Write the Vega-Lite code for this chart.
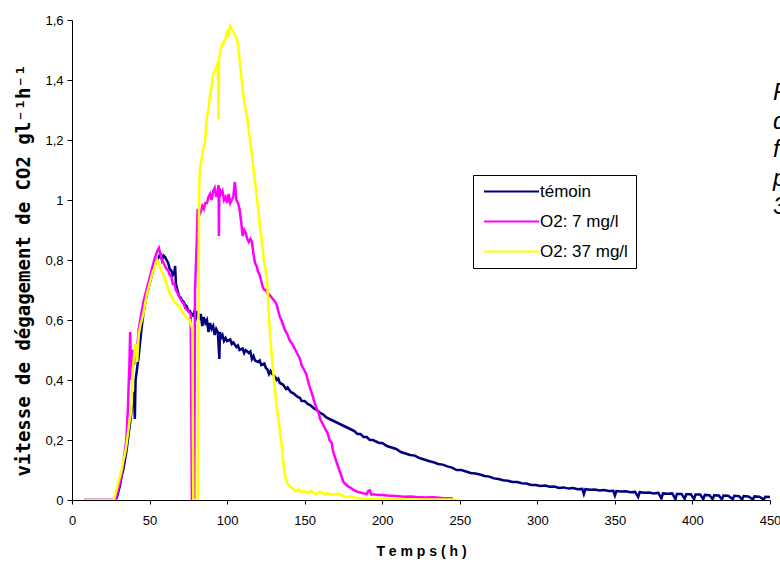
{
  "$schema": "https://vega.github.io/schema/vega-lite/v6.json",
  "width": 698,
  "height": 480,
  "autosize": {"type": "none"},
  "padding": {"left": 72, "top": 20, "right": 10, "bottom": 66},
  "background": "white",
  "config": {
    "view": {"stroke": null},
    "font": "Liberation Sans",
    "axis": {"grid": false, "domainColor": "black", "tickColor": "black", "labelColor": "black", "titleColor": "black", "labelFont": "Liberation Sans", "labelFontSize": 13}
  },
  "title": {
    "text": ["F", "d", "f", "p", "3"],
    "anchor": "end",
    "frame": "group",
    "align": "left",
    "baseline": "alphabetic",
    "offset": 0,
    "dx": 3,
    "dy": 224,
    "fontSize": 24,
    "lineHeight": 28.5,
    "fontStyle": "italic",
    "fontWeight": "normal",
    "font": "Liberation Sans",
    "color": "black"
  },
  "encoding": {
    "x": {
      "field": "t", "type": "quantitative",
      "scale": {"domain": [0, 450], "nice": false, "zero": false},
      "axis": {
        "values": [0, 50, 100, 150, 200, 250, 300, 350, 400, 450],
        "labelFlush": false, "labelOverlap": false,
        "tickSize": 4, "labelPadding": 10,
        "title": "T e m p s   ( h )",
        "titleFont": "Liberation Sans", "titleFontSize": 14, "titleFontWeight": "bold", "titlePadding": 17
      }
    },
    "y": {
      "field": "v", "type": "quantitative",
      "scale": {"domain": [0, 1.6], "nice": false},
      "axis": {
        "values": [0, 0.2, 0.4, 0.6, 0.8, 1, 1.2, 1.4, 1.6],
        "labelExpr": "replace(toString(datum.value), '.', ',')",
        "labelFlush": false,
        "tickSize": 5, "labelPadding": 4,
        "title": "vitesse de dégagement de CO2 gl⁻¹h⁻¹",
        "titleFont": "DejaVu Sans Mono", "titleFontSize": 19, "titleFontWeight": "bold",
        "titleX": -49, "titleY": 250, "titleBaseline": "middle", "titleAngle": -90
      }
    }
  },
  "layer": [
    {
      "data": {"values": [
        {"t":8,"v":0},{"t":28,"v":0},{"t":29,"v":0.01},{"t":30,"v":0.03},{"t":31,"v":0.05},{"t":32,"v":0.08},{"t":33,"v":0.1},{"t":34,"v":0.13},{"t":35,"v":0.16},{"t":36,"v":0.2},{"t":37,"v":0.24},{"t":38,"v":0.28},{"t":39,"v":0.33},{"t":40,"v":0.36},{"t":40.5,"v":0.27},{"t":41,"v":0.4},{"t":42,"v":0.44},{"t":43,"v":0.48},{"t":44,"v":0.53},{"t":45,"v":0.58},{"t":46,"v":0.62},{"t":47,"v":0.65},{"t":48,"v":0.68},{"t":49,"v":0.7},{"t":50,"v":0.72},{"t":51,"v":0.74},{"t":52,"v":0.76},{"t":53,"v":0.78},{"t":54,"v":0.79},{"t":55,"v":0.8},{"t":56,"v":0.81},{"t":57,"v":0.82},{"t":58,"v":0.8},{"t":59,"v":0.815},{"t":60,"v":0.81},{"t":61,"v":0.8},{"t":62,"v":0.79},{"t":63,"v":0.77},{"t":64,"v":0.765},{"t":65,"v":0.75},{"t":66,"v":0.76},{"t":66.5,"v":0.78},{"t":67,"v":0.72},{"t":68,"v":0.7},{"t":69,"v":0.68},{"t":70,"v":0.675},{"t":71,"v":0.665},{"t":72,"v":0.66},{"t":73,"v":0.65},{"t":74,"v":0.645},{"t":75,"v":0.63},{"t":76,"v":0.63},{"t":77,"v":0.62},{"t":78,"v":0.615},{"t":79,"v":0.63},
        {"t":80,"v":0.61},{"t":81,"v":0.63},{"t":82,"v":0.6},{"t":83,"v":0.62},{"t":84,"v":0.58},{"t":85,"v":0.61},{"t":86,"v":0.59},{"t":87,"v":0.6},{"t":88,"v":0.56},{"t":89,"v":0.59},{"t":90,"v":0.57},{"t":91,"v":0.58},{"t":92,"v":0.55},{"t":93,"v":0.57},{"t":94,"v":0.56},{"t":95,"v":0.47},{"t":95.4,"v":0.56},{"t":96,"v":0.54},{"t":97,"v":0.55},{"t":98,"v":0.53},{"t":99,"v":0.54},{"t":100,"v":0.53},{"t":102,"v":0.535},{"t":103,"v":0.52},{"t":104,"v":0.525},{"t":106,"v":0.51},{"t":107,"v":0.515},{"t":108,"v":0.5},{"t":110,"v":0.505},{"t":111,"v":0.49},{"t":112,"v":0.5},{"t":114,"v":0.49},{"t":115,"v":0.495},{"t":116,"v":0.47},{"t":117,"v":0.48},{"t":118,"v":0.465},{"t":120,"v":0.46},{"t":121,"v":0.465},{"t":122,"v":0.45},{"t":124,"v":0.455},{"t":125,"v":0.44},{"t":126,"v":0.435},{"t":127,"v":0.42},{"t":128,"v":0.43},{"t":129,"v":0.42},{"t":131,"v":0.41},{"t":132,"v":0.4},{"t":133,"v":0.405},{"t":134,"v":0.39},{"t":136,"v":0.385},{"t":138,"v":0.37},{"t":139,"v":0.375},{"t":141,"v":0.36},{"t":143,"v":0.355},{"t":145,"v":0.345},{"t":147,"v":0.34},{"t":148,"v":0.33},{"t":150,"v":0.33},{"t":152,"v":0.32},{"t":154,"v":0.315},{"t":156,"v":0.305},{"t":158,"v":0.3},{"t":160,"v":0.29},{"t":162,"v":0.285},{"t":164,"v":0.275},{"t":166,"v":0.27},{"t":168,"v":0.265},{"t":170,"v":0.26},{"t":172,"v":0.255},{"t":174,"v":0.25},{"t":176,"v":0.245},{"t":178,"v":0.24},{"t":180,"v":0.235},{"t":182,"v":0.23},{"t":184,"v":0.22},{"t":186,"v":0.22},{"t":188,"v":0.21},{"t":190,"v":0.21},{"t":192,"v":0.2},{"t":194,"v":0.2},{"t":196,"v":0.195},{"t":198,"v":0.19},{"t":200,"v":0.19},{"t":203,"v":0.18},{"t":206,"v":0.175},{"t":209,"v":0.17},{"t":212,"v":0.16},{"t":215,"v":0.155},{"t":218,"v":0.15},{"t":221,"v":0.148},{"t":224,"v":0.14},{"t":227,"v":0.135},{"t":230,"v":0.13},{"t":233,"v":0.126},{"t":236,"v":0.12},{"t":239,"v":0.118},{"t":242,"v":0.112},{"t":245,"v":0.108},{"t":248,"v":0.1},{"t":251,"v":0.1},{"t":254,"v":0.095},{"t":257,"v":0.09},{"t":260,"v":0.088},{"t":263,"v":0.085},{"t":266,"v":0.08},{"t":269,"v":0.078},{"t":272,"v":0.072},{"t":275,"v":0.07},{"t":278,"v":0.066},{"t":281,"v":0.064},{"t":284,"v":0.06},{"t":287,"v":0.06},{"t":290,"v":0.056},{"t":293,"v":0.055},{"t":296,"v":0.05},{"t":299,"v":0.05},{"t":302,"v":0.047},{"t":305,"v":0.048},{"t":308,"v":0.044},{"t":311,"v":0.045},{"t":314,"v":0.04},{"t":317,"v":0.042},{"t":320,"v":0.038},{"t":323,"v":0.04},{"t":326,"v":0.036},{"t":329,"v":0.037},{"t":330,"v":0.02},{"t":331,"v":0.036},{"t":334,"v":0.034},{"t":337,"v":0.035},{"t":340,"v":0.032},{"t":343,"v":0.033},{"t":346,"v":0.03},{"t":349,"v":0.031},{"t":350,"v":0.015},{"t":351,"v":0.03},{"t":354,"v":0.028},{"t":357,"v":0.029},{"t":360,"v":0.026},{"t":363,"v":0.027},{"t":365,"v":0.01},{"t":366,"v":0.026},{"t":369,"v":0.024},{"t":372,"v":0.025},{"t":375,"v":0.022},{"t":378,"v":0.024},{"t":380,"v":0.005},{"t":381,"v":0.022},{"t":384,"v":0.021},{"t":387,"v":0.022},{"t":389,"v":0.003},{"t":390,"v":0.02},{"t":393,"v":0.02},{"t":395,"v":0.004},{"t":396,"v":0.019},{"t":399,"v":0.019},{"t":401,"v":0.003},{"t":402,"v":0.018},{"t":405,"v":0.018},{"t":407,"v":0.003},{"t":408,"v":0.017},{"t":411,"v":0.016},{"t":413,"v":0.003},{"t":414,"v":0.016},{"t":417,"v":0.015},{"t":419,"v":0.002},{"t":420,"v":0.015},{"t":423,"v":0.014},{"t":426,"v":0.003},{"t":427,"v":0.014},{"t":430,"v":0.013},{"t":432,"v":0.002},{"t":433,"v":0.013},{"t":436,"v":0.012},{"t":439,"v":0.002},{"t":440,"v":0.012},{"t":443,"v":0.011},{"t":446,"v":0.002},{"t":447,"v":0.011},{"t":450,"v":0.01}
      ]},
      "mark": {"type": "line", "strokeWidth": 2.5, "clip": true},
      "encoding": {
        "color": {
          "datum": "témoin", "type": "nominal",
          "scale": {"domain": ["témoin", "O2: 7 mg/l", "O2: 37 mg/l"], "range": ["#000080", "#FF00FF", "#FFFF00"]},
          "legend": {
            "title": null, "orient": "none", "legendX": 401, "legendY": 155,
            "symbolType": "M-1,0H9", "symbolSize": 121, "symbolStrokeWidth": 2,
            "labelFontSize": 17, "labelFont": "Liberation Sans", "labelColor": "black", "labelOffset": 42,
            "strokeColor": "black", "fillColor": "white", "padding": 8, "rowPadding": 12
          }
        }
      }
    },
    {
      "data": {"values": [
        {"t":8,"v":0},{"t":28,"v":0},{"t":29,"v":0.02},{"t":30,"v":0.04},{"t":31,"v":0.06},{"t":32,"v":0.09},{"t":33,"v":0.12},{"t":34,"v":0.16},{"t":35,"v":0.2},{"t":36,"v":0.3},{"t":36.5,"v":0.38},{"t":37,"v":0.45},{"t":37.5,"v":0.56},{"t":38,"v":0.4},{"t":38.5,"v":0.48},{"t":39,"v":0.5},{"t":40,"v":0.45},{"t":41,"v":0.52},{"t":42,"v":0.5},{"t":43,"v":0.57},{"t":44,"v":0.6},{"t":45,"v":0.63},{"t":46,"v":0.66},{"t":47,"v":0.68},{"t":48,"v":0.7},{"t":49,"v":0.72},{"t":50,"v":0.74},{"t":51,"v":0.76},{"t":52,"v":0.78},{"t":53,"v":0.8},{"t":54,"v":0.815},{"t":55,"v":0.83},{"t":56,"v":0.84},{"t":57,"v":0.82},{"t":58,"v":0.8},{"t":59,"v":0.79},{"t":60,"v":0.78},{"t":61,"v":0.77},{"t":62,"v":0.765},{"t":63,"v":0.75},{"t":64,"v":0.745},{"t":65,"v":0.72},{"t":66,"v":0.72},{"t":67,"v":0.7},{"t":68,"v":0.69},{"t":69,"v":0.68},{"t":70,"v":0.67},{"t":71,"v":0.66},{"t":72,"v":0.655},{"t":73,"v":0.64},{"t":74,"v":0.635},{"t":75,"v":0.63},{"t":76.5,"v":0.62},{"t":77.3,"v":0},{"t":78.8,"v":0},{"t":79.3,"v":0.7},{"t":80,"v":0.8},{"t":80.5,"v":0.87},{"t":81,"v":0.97},{"t":82,"v":0.95},{"t":83,"v":0.96},{"t":84,"v":0.98},{"t":85,"v":0.97},{"t":86,"v":0.99},{"t":87,"v":0.99},{"t":88,"v":1.01},{"t":89,"v":1.02},{"t":90,"v":1.0},{"t":91,"v":1.03},{"t":92,"v":1.04},{"t":93,"v":1.01},{"t":94,"v":1.03},{"t":94.5,"v":1.05},{"t":94.7,"v":0.88},{"t":95,"v":1.04},{"t":96,"v":1.02},{"t":97,"v":1.03},{"t":98,"v":1.0},{"t":99,"v":1.01},{"t":100,"v":0.99},{"t":101,"v":1.02},{"t":102,"v":0.99},{"t":103,"v":1.0},{"t":104,"v":1.01},{"t":105,"v":1.06},{"t":106,"v":1.0},{"t":107,"v":0.99},{"t":108,"v":0.97},{"t":109,"v":0.93},{"t":110,"v":0.88},{"t":111,"v":0.9},{"t":112,"v":0.89},{"t":113,"v":0.87},{"t":114,"v":0.86},{"t":115,"v":0.87},{"t":116,"v":0.86},{"t":117,"v":0.82},{"t":118,"v":0.79},{"t":119,"v":0.78},{"t":120,"v":0.76},{"t":121,"v":0.75},{"t":122,"v":0.73},{"t":123,"v":0.71},{"t":124,"v":0.7},{"t":125,"v":0.7},{"t":126,"v":0.69},{"t":128,"v":0.68},{"t":129.5,"v":0.67},{"t":131,"v":0.66},{"t":132,"v":0.65},{"t":133,"v":0.63},{"t":134,"v":0.61},{"t":135,"v":0.6},{"t":137,"v":0.57},{"t":139,"v":0.55},{"t":140.5,"v":0.53},{"t":142,"v":0.52},{"t":144,"v":0.5},{"t":145,"v":0.49},{"t":147,"v":0.47},{"t":148,"v":0.45},{"t":150,"v":0.43},{"t":151,"v":0.42},{"t":152,"v":0.4},{"t":153,"v":0.38},{"t":155,"v":0.35},{"t":156,"v":0.33},{"t":158,"v":0.3},{"t":159,"v":0.29},{"t":160,"v":0.27},{"t":161,"v":0.26},{"t":163,"v":0.24},{"t":164,"v":0.23},{"t":165,"v":0.22},{"t":166,"v":0.2},{"t":167.5,"v":0.19},{"t":168,"v":0.17},{"t":169,"v":0.15},{"t":170,"v":0.135},{"t":171,"v":0.12},{"t":172,"v":0.105},{"t":173,"v":0.09},{"t":174,"v":0.075},{"t":175,"v":0.06},{"t":176,"v":0.055},{"t":177,"v":0.05},{"t":178,"v":0.045},{"t":180,"v":0.04},{"t":181,"v":0.035},{"t":183,"v":0.03},{"t":184,"v":0.027},{"t":186,"v":0.025},{"t":188,"v":0.022},{"t":190,"v":0.02},{"t":191,"v":0.03},{"t":192,"v":0.032},{"t":193,"v":0.018},{"t":195,"v":0.018},{"t":198,"v":0.017},{"t":200,"v":0.017},{"t":203,"v":0.015},{"t":206,"v":0.014},{"t":209,"v":0.013},{"t":212,"v":0.012},{"t":215,"v":0.011},{"t":218,"v":0.012},{"t":222,"v":0.01},{"t":225,"v":0.009},{"t":228,"v":0.008},{"t":232,"v":0.009},{"t":235,"v":0.008},{"t":238,"v":0.007},{"t":240,"v":0.006},{"t":243,"v":0.006},{"t":245.6,"v":0.005}
      ]},
      "mark": {"type": "line", "strokeWidth": 2.5, "clip": true},
      "encoding": {"color": {"datum": "O2: 7 mg/l", "type": "nominal"}}
    },
    {
      "data": {"values": [
        {"t":8,"v":0},{"t":27,"v":0},{"t":28,"v":0.02},{"t":29,"v":0.04},{"t":30,"v":0.06},{"t":31,"v":0.08},{"t":32,"v":0.1},{"t":33,"v":0.13},{"t":34,"v":0.15},{"t":35,"v":0.18},{"t":36,"v":0.22},{"t":37,"v":0.26},{"t":38,"v":0.29},{"t":38.5,"v":0.32},{"t":39,"v":0.42},{"t":40,"v":0.48},{"t":41,"v":0.52},{"t":42,"v":0.46},{"t":43,"v":0.55},{"t":44,"v":0.58},{"t":45,"v":0.6},{"t":46,"v":0.62},{"t":47,"v":0.65},{"t":48,"v":0.68},{"t":49,"v":0.7},{"t":50,"v":0.72},{"t":51,"v":0.74},{"t":52,"v":0.76},{"t":53,"v":0.77},{"t":54,"v":0.79},{"t":55,"v":0.8},{"t":56,"v":0.79},{"t":57,"v":0.77},{"t":58,"v":0.76},{"t":59,"v":0.75},{"t":60,"v":0.74},{"t":61,"v":0.72},{"t":62,"v":0.7},{"t":63,"v":0.69},{"t":64,"v":0.68},{"t":65,"v":0.67},{"t":66,"v":0.66},{"t":67,"v":0.655},{"t":68,"v":0.65},{"t":69,"v":0.645},{"t":70,"v":0.64},{"t":71,"v":0.63},{"t":72,"v":0.62},{"t":73,"v":0.615},{"t":74,"v":0.61},{"t":75,"v":0.6},{"t":76,"v":0.6},{"t":77,"v":0.58},{"t":77.6,"v":0.57},{"t":78.2,"v":0},{"t":81,"v":0},{"t":82,"v":1.05},{"t":82.5,"v":1.1},{"t":84,"v":1.15},{"t":85,"v":1.18},{"t":85.7,"v":1.19},{"t":86.5,"v":1.25},{"t":87,"v":1.28},{"t":88,"v":1.3},{"t":88.5,"v":1.33},{"t":89,"v":1.35},{"t":90,"v":1.38},{"t":91,"v":1.42},{"t":92,"v":1.43},{"t":93,"v":1.44},{"t":94,"v":1.46},{"t":94.5,"v":1.27},{"t":94.8,"v":1.47},{"t":95.5,"v":1.49},{"t":96.6,"v":1.52},{"t":97.5,"v":1.52},{"t":98,"v":1.53},{"t":99,"v":1.54},{"t":100,"v":1.56},{"t":101,"v":1.55},{"t":102,"v":1.58},{"t":103,"v":1.57},{"t":104,"v":1.56},{"t":105,"v":1.55},{"t":106,"v":1.54},{"t":107,"v":1.52},{"t":108,"v":1.47},{"t":109,"v":1.42},{"t":110,"v":1.37},{"t":111,"v":1.33},{"t":112.7,"v":1.28},{"t":114,"v":1.23},{"t":115,"v":1.19},{"t":116,"v":1.15},{"t":117,"v":1.1},{"t":118,"v":1.06},{"t":119,"v":1.02},{"t":120,"v":0.97},{"t":121,"v":0.92},{"t":122,"v":0.88},{"t":123,"v":0.83},{"t":124,"v":0.79},{"t":125,"v":0.76},{"t":125.6,"v":0.74},{"t":126.5,"v":0.66},{"t":127,"v":0.61},{"t":127.6,"v":0.56},{"t":128.5,"v":0.5},{"t":129.5,"v":0.44},{"t":130.5,"v":0.38},{"t":132,"v":0.31},{"t":133.5,"v":0.25},{"t":135,"v":0.19},{"t":136,"v":0.14},{"t":137,"v":0.09},{"t":138,"v":0.07},{"t":139,"v":0.055},{"t":140.5,"v":0.045},{"t":142,"v":0.04},{"t":144,"v":0.03},{"t":146,"v":0.035},{"t":147,"v":0.027},{"t":149,"v":0.03},{"t":152,"v":0.025},{"t":154,"v":0.03},{"t":157,"v":0.02},{"t":160,"v":0.028},{"t":163,"v":0.018},{"t":165,"v":0.022},{"t":168,"v":0.017},{"t":170,"v":0.02},{"t":173,"v":0.02},{"t":175,"v":0.012},{"t":177,"v":0.01},{"t":180,"v":0.012},{"t":183.6,"v":0.005},{"t":186,"v":0.004},{"t":190,"v":0.004},{"t":200,"v":0.003},{"t":210,"v":0.003},{"t":220,"v":0.002},{"t":230,"v":0.002},{"t":240,"v":0.002},{"t":248,"v":0.002}
      ]},
      "mark": {"type": "line", "strokeWidth": 2.5, "clip": true},
      "encoding": {"color": {"datum": "O2: 37 mg/l", "type": "nominal"}}
    }
  ]
}
